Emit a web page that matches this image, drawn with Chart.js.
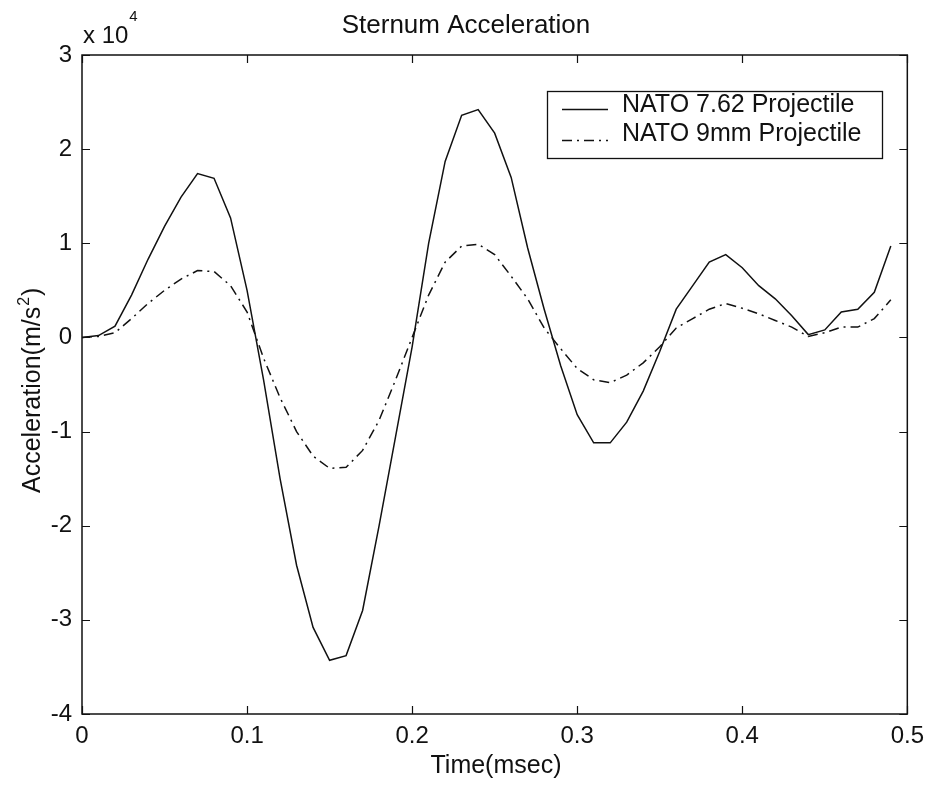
<!DOCTYPE html>
<html>
<head>
<meta charset="utf-8">
<script src="https://cdn.jsdelivr.net/npm/chart.js@4.4.0/dist/chart.umd.min.js"></script>
<style>
html,body{margin:0;padding:0;background:#fff;}
#wrap{width:932px;height:785px;position:relative;}
</style>
</head>
<body>
<div id="wrap"><canvas id="c" width="932" height="785"></canvas></div>
<script>
// ---- data (time in msec, acceleration in m/s^2) ----
const timeMs = [0.00,0.01,0.02,0.03,0.04,0.05,0.06,0.07,0.08,0.09,
                0.10,0.11,0.12,0.13,0.14,0.15,0.16,0.17,0.18,0.19,
                0.20,0.21,0.22,0.23,0.24,0.25,0.26,0.27,0.28,0.29,
                0.30,0.31,0.32,0.33,0.34,0.35,0.36,0.37,0.38,0.39,
                0.40,0.41,0.42,0.43,0.44,0.45,0.46,0.47,0.48,0.49];
const nato762 = [0,200,1200,4500,8300,11800,14900,17400,16900,12700,
                 5000,-4500,-15000,-24200,-30800,-34300,-33800,-29000,-20000,-10500,
                 -1000,10000,18700,23600,24200,21700,17000,9500,3000,-3000,
                 -8200,-11200,-11200,-9000,-5700,-1500,3000,5500,8000,8800,
                 7400,5500,4100,2300,300,800,2700,3000,4800,9700];
const nato9mm = [0,100,500,2000,3600,5000,6200,7100,7000,5500,
                 2700,-2200,-6400,-10000,-12600,-13900,-13800,-12000,-8800,-4500,
                 0,4500,8000,9700,9900,8800,6500,4100,1000,-1200,
                 -3300,-4500,-4800,-4000,-2700,-1000,1000,2000,3000,3600,
                 3100,2500,1800,1100,100,500,1100,1100,2000,4000];
const seriesNames = ['NATO 7.62 Projectile','NATO 9mm Projectile'];
const chartTitle = 'Sternum Acceleration';
const xTitle = 'Time(msec)';
const yTitleMain = 'Acceleration(m/s';
const yTitleSup = '2';
const yTitleEnd = ')';
const xTicks = [0,0.1,0.2,0.3,0.4,0.5];
const yTicks = [-40000,-30000,-20000,-10000,0,10000,20000,30000];
const yMultiplier = 'x 10';
const yExponent = '4';

const FONT = '"Liberation Sans", Arial, Helvetica, sans-serif';
const INK = '#111';
const dash = [10,5,2,5];

const framePlugin = {
  id: 'framePlugin',
  afterDatasetsDraw(chart) {
    const ctx = chart.ctx, a = chart.chartArea;
    const xs = chart.scales.x, ys = chart.scales.y;
    ctx.save();
    ctx.strokeStyle = INK;
    ctx.lineWidth = 1.5;
    ctx.strokeRect(a.left, a.top, a.right - a.left, a.bottom - a.top);
    ctx.lineWidth = 1.2;
    const tl = 8;
    ctx.beginPath();
    xTicks.forEach(v => {
      const px = Math.round(xs.getPixelForValue(v)) + 0.5;
      ctx.moveTo(px, a.bottom); ctx.lineTo(px, a.bottom - tl);
      ctx.moveTo(px, a.top); ctx.lineTo(px, a.top + tl);
    });
    yTicks.forEach(v => {
      const py = Math.round(ys.getPixelForValue(v)) + 0.5;
      ctx.moveTo(a.left, py); ctx.lineTo(a.left + tl, py);
      ctx.moveTo(a.right, py); ctx.lineTo(a.right - tl, py);
    });
    ctx.stroke();
    ctx.restore();
  },
  afterDraw(chart) {
    const ctx = chart.ctx, a = chart.chartArea;
    ctx.save();
    ctx.fillStyle = INK;
    // title
    ctx.font = '26px ' + FONT;
    ctx.textAlign = 'center';
    ctx.textBaseline = 'alphabetic';
    ctx.fillText(chartTitle, 466, 33);
    // exponent label
    ctx.textAlign = 'left';
    ctx.font = '24px ' + FONT;
    ctx.fillText(yMultiplier, 83, 43);
    const w = ctx.measureText(yMultiplier).width;
    ctx.font = '15px ' + FONT;
    ctx.fillText(yExponent, 83 + w + 1, 21);
    // x title
    ctx.font = '25px ' + FONT;
    ctx.textAlign = 'center';
    ctx.fillText(xTitle, 496, 773);
    // y title (rotated)
    ctx.save();
    ctx.translate(40, 493);
    ctx.rotate(-Math.PI / 2);
    ctx.textAlign = 'left';
    ctx.font = '25px ' + FONT;
    const w1 = ctx.measureText(yTitleMain).width;
    ctx.fillText(yTitleMain, 0, 0);
    ctx.font = '16px ' + FONT;
    const w2 = ctx.measureText(yTitleSup).width;
    ctx.fillText(yTitleSup, w1 + 1, -11);
    ctx.font = '25px ' + FONT;
    ctx.fillText(yTitleEnd, w1 + w2 + 2, 0);
    ctx.restore();
    // legend
    const lx = 547, ly = 91, lw = 335, lh = 67;
    ctx.fillStyle = '#fff';
    ctx.fillRect(lx, ly, lw, lh);
    ctx.strokeStyle = INK;
    ctx.lineWidth = 1.3;
    ctx.strokeRect(lx + 0.5, ly + 0.5, lw, lh);
    const lineRows = [109, 140];
    const textRows = [105, 134];
    chart.data.datasets.forEach((ds, i) => {
      ctx.save();
      ctx.strokeStyle = ds.borderColor;
      ctx.lineWidth = ds.borderWidth;
      ctx.setLineDash(ds.borderDash || []);
      ctx.beginPath();
      ctx.moveTo(lx + 15, lineRows[i] + 0.5);
      ctx.lineTo(lx + 61, lineRows[i] + 0.5);
      ctx.stroke();
      ctx.restore();
      ctx.fillStyle = INK;
      ctx.font = '25px ' + FONT;
      ctx.textAlign = 'left';
      ctx.textBaseline = 'middle';
      ctx.fillText(ds.label, lx + 75, textRows[i]);
    });
    ctx.restore();
  }
};

const toPoints = (xs, ys) => xs.map((x, i) => ({x: x, y: ys[i]}));

new Chart(document.getElementById('c'), {
  type: 'line',
  data: {
    datasets: [
      { label: seriesNames[0], data: toPoints(timeMs, nato762), borderColor: INK, borderWidth: 1.5,
        pointRadius: 0, tension: 0, fill: false },
      { label: seriesNames[1], data: toPoints(timeMs, nato9mm), borderColor: INK, borderWidth: 1.5,
        borderDash: dash, pointRadius: 0, tension: 0, fill: false }
    ]
  },
  options: {
    responsive: false,
    animation: false,
    devicePixelRatio: 1,
    layout: { padding: { top: 55, right: 20, bottom: 0, left: 0 } },
    plugins: { legend: { display: false }, title: { display: false }, tooltip: { enabled: false } },
    scales: {
      x: {
        type: 'linear', min: 0, max: 0.5,
        afterBuildTicks: s => { s.ticks = xTicks.map(v => ({ value: v })); },
        afterFit: s => { s.height = 71; },
        grid: { display: false, drawTicks: false },
        border: { display: false },
        ticks: { color: INK, font: { family: FONT, size: 24 }, padding: 8, maxRotation: 0,
                 callback: v => String(Number(v.toFixed(1))) }
      },
      y: {
        type: 'linear', min: -40000, max: 30000,
        afterBuildTicks: s => { s.ticks = yTicks.map(v => ({ value: v })); },
        afterFit: s => { s.width = 82; },
        grid: { display: false, drawTicks: false },
        border: { display: false },
        ticks: { color: INK, font: { family: FONT, size: 24 }, padding: 10,
                 callback: v => String(v / 10000) }
      }
    }
  },
  plugins: [framePlugin]
});
</script>
</body>
</html>
